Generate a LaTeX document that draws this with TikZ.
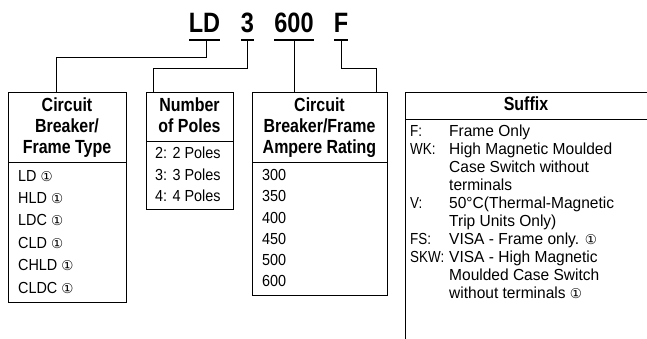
\documentclass[tikz,border=0pt]{standalone}
\usepackage{fontspec}
\setmainfont[FakeStretch=0.84]{Liberation Sans}
\newfontfamily\bodyfont[FakeStretch=0.9]{Liberation Sans}
\newfontfamily\sufffont[FakeStretch=0.97]{Liberation Sans}
\newfontfamily\labfont[FakeStretch=0.84]{Liberation Sans}
\newfontfamily\symfont{DejaVu Sans}
\newcommand{\cone}{{\symfont\fontsize{13.5}{13.5}\selectfont ①}}
\begin{document}
\begin{tikzpicture}[x=1pt,y=-1pt,
  title/.style={font=\fontsize{28}{28}\selectfont\bfseries, anchor=base, inner sep=0},
  hdr/.style={font=\fontsize{19}{19}\selectfont\bfseries, anchor=base, inner sep=0},
  body/.style={font=\bodyfont\fontsize{16}{16}\selectfont, anchor=base west, inner sep=0},
  sbody/.style={font=\sufffont\fontsize{16}{16}\selectfont, anchor=base west, inner sep=0},
  slab/.style={font=\labfont\fontsize{16}{16}\selectfont, anchor=base west, inner sep=0},
  boxed/.style={draw, line width=0.8pt, anchor=north west, inner sep=0},
  conn/.style={line width=0.8pt},
  uline/.style={line width=2.5pt}]
\useasboundingbox (0,0) rectangle (647,339);
% title
\node[title] (tLD) at (204.5,33) {LD};
\node[title] (t3) at (247.5,33) {3};
\node[title] (t600) at (294,33) {600};
\node[title] (tF) at (341,33) {F};
\draw[uline] (189,40) -- (220,40);
\draw[uline] (241,40) -- (254,40);
\draw[uline] (274,40) -- (314,40);
\draw[uline] (334,40) -- (348,40);
\coordinate (kLD) at (206,40);
\coordinate (k3) at (247,40);
\coordinate (k600) at (294,40);
\coordinate (kF) at (341,40);
% boxes
\node[boxed, minimum width=118pt, minimum height=210pt] (box1) at (8,92) {};
\node[boxed, minimum width=87pt, minimum height=117pt] (box2) at (146,92) {};
\node[boxed, minimum width=135pt, minimum height=203pt] (box3) at (252,92) {};
\draw[conn] (box1.west |- 0,162) -- (box1.east |- 0,162);
\draw[conn] (box2.west |- 0,141) -- (box2.east |- 0,141);
\draw[conn] (box3.west |- 0,162) -- (box3.east |- 0,162);
\coordinate (sufTL) at (405,92);
\draw[conn] (405,339) -- (sufTL) -- (647,92);
\draw[conn] (405,119) -- (647,119);
% connectors
\draw[conn] (kLD) -- (206,57) -- (56,57) -- (box1.north west -| 56,0);
\draw[conn] (k3) -- (247,68) -- (153,68) -- (box2.north west -| 153,0);
\draw[conn] (k600) -- (box3.north west -| 294,0);
\draw[conn] (kF) -- (341,68) -- (376,68) -- (sufTL -| 376,0);
% box 1
\node[hdr] (h1a) at (67,111.5) {Circuit};
\node[hdr] (h1b) at (67,132.5) {Breaker/};
\node[hdr] (h1c) at (67,153.5) {Frame Type};
\node[body] (b1a) at (18,181) {LD \cone};
\node[body] (b1b) at (18,203.4) {HLD \cone};
\node[body] (b1c) at (18,225.8) {LDC \cone};
\node[body] (b1d) at (18,248.2) {CLD \cone};
\node[body] (b1e) at (18,270.6) {CHLD \cone};
\node[body] (b1f) at (18,293) {CLDC \cone};
% box 2
\node[hdr] (h2a) at (189.5,111.5) {Number};
\node[hdr] (h2b) at (189.5,132.5) {of Poles};
\node[body] (b2a) at (155,159) {2: 2 Poles};
\node[body] (b2b) at (155,180) {3: 3 Poles};
\node[body] (b2c) at (155,201) {4: 4 Poles};
% box 3
\node[hdr] (h3a) at (319.5,111.5) {Circuit};
\node[hdr] (h3b) at (319.5,132.5) {Breaker/Frame};
\node[hdr] (h3c) at (319.5,153.5) {Ampere Rating};
\node[body] (b3a) at (262,180.7) {300};
\node[body] (b3b) at (262,201.9) {350};
\node[body] (b3c) at (262,223.1) {400};
\node[body] (b3d) at (262,244.3) {450};
\node[body] (b3e) at (262,265.5) {500};
\node[body] (b3f) at (262,286.7) {600};
% suffix
\node[hdr] (h4) at (526,111) {Suffix};
\node[slab] (s1l) at (410,137) {F:};
\node[sbody] (s1) at (449,137) {Frame Only};
\node[slab] (s2l) at (410,154.9) {WK:};
\node[sbody] (s2) at (449,154.9) {High Magnetic Moulded};
\node[sbody] (s3) at (449,172.8) {Case Switch without};
\node[sbody] (s4) at (449,190.7) {terminals};
\node[slab] (s5l) at (410,208.6) {V:};
\node[sbody] (s5) at (449,208.6) {50°C(Thermal-Magnetic};
\node[sbody] (s6) at (449,226.5) {Trip Units Only)};
\node[slab] (s7l) at (410,244.4) {FS:};
\node[sbody] (s7) at (449,244.4) {VISA - Frame only. \cone};
\node[slab] (s8l) at (410,262.3) {SKW:};
\node[sbody] (s8) at (449,262.3) {VISA - High Magnetic};
\node[sbody] (s9) at (449,280.2) {Moulded Case Switch};
\node[sbody] (s10) at (449,298.1) {without terminals \cone};
\end{tikzpicture}
\end{document}
